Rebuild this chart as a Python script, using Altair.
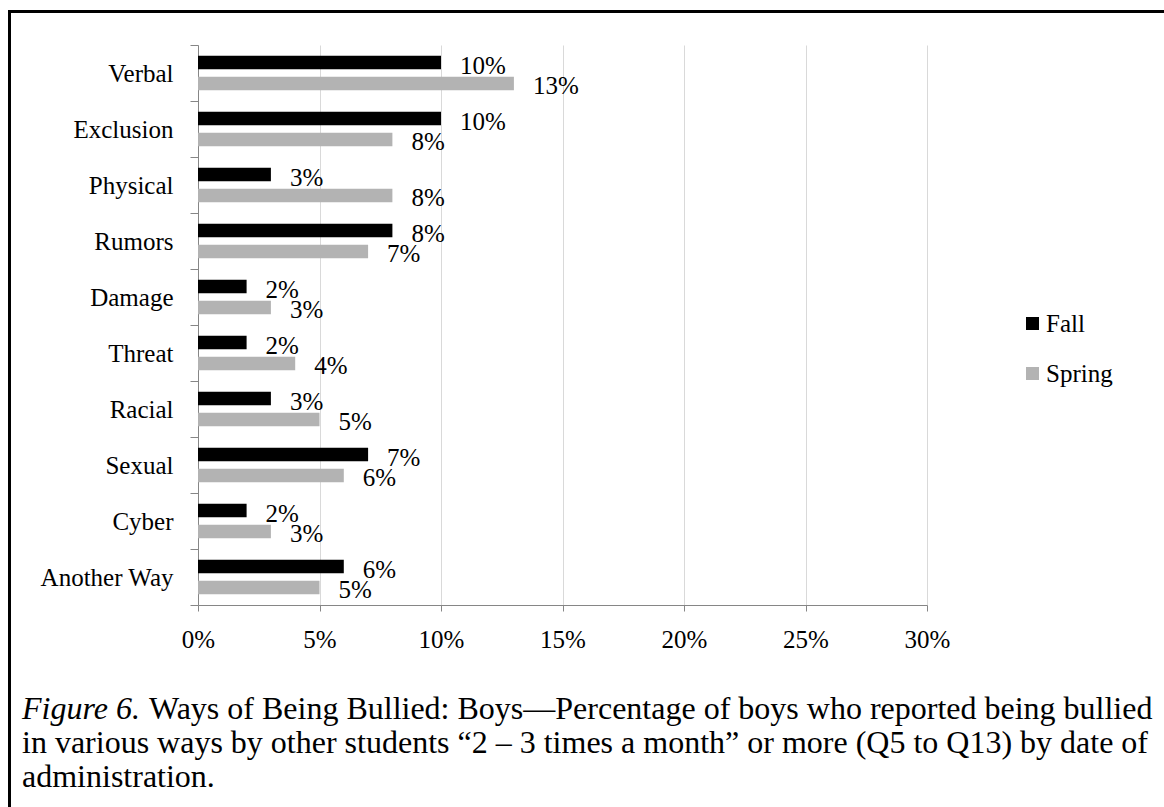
import altair as alt
import pandas as pd

categories = ["Verbal", "Exclusion", "Physical", "Rumors", "Damage", "Threat",
              "Racial", "Sexual", "Cyber", "Another Way"]
fall = [10, 10, 3, 8, 2, 2, 3, 7, 2, 6]
spring = [13, 8, 8, 7, 3, 4, 5, 6, 3, 5]
series = ["Fall", "Spring"]
colors = ["#000000", "#b3b3b3"]
x_ticks = [0, 0.05, 0.10, 0.15, 0.20, 0.25, 0.30]

caption_italic = "Figure 6."
caption_lines = [
    "Ways of Being Bullied: Boys\u2014Percentage of boys who reported being bullied",
    "in various ways by other students \u201c2 \u2013 3 times a month\u201d or more (Q5 to Q13) by date of",
    "administration.",
]

rows = []
for c, f, s in zip(categories, fall, spring):
    rows.append({"cat": c, "series": "Fall", "v": f / 100})
    rows.append({"cat": c, "series": "Spring", "v": s / 100})
df = pd.DataFrame(rows)

FONT = "Liberation Serif"
W, H = 729, 560
LEFT, TOP = 198, 45

y_enc = alt.Y("cat:N", sort=categories, title=None,
              scale=alt.Scale(paddingInner=0, paddingOuter=0),
              axis=alt.Axis(tickBand="extent", tickSize=8, labelPadding=17,
                            labelFontSize=25, labelFont=FONT, labelColor="black",
                            domainColor="#868686", tickColor="#868686",
                            grid=False, labelLimit=300))
yoff_enc = alt.YOffset("series:N", sort=series,
                       scale=alt.Scale(paddingInner=0.357, paddingOuter=0.512))
x_enc = alt.X("v:Q", title=None,
              scale=alt.Scale(domain=[0, 0.30], nice=False, zero=True),
              axis=alt.Axis(values=x_ticks, format=".0%", grid=True,
                            gridColor="#d9d9d9", domainColor="#868686",
                            tickColor="#868686", tickSize=6, labelPadding=16,
                            labelFlush=False, labelFontSize=25, labelFont=FONT,
                            labelColor="black"))

bars = alt.Chart(df).mark_bar().encode(
    x=x_enc,
    y=y_enc,
    yOffset=yoff_enc,
    color=alt.Color("series:N", sort=series,
                    scale=alt.Scale(domain=series, range=colors),
                    legend=alt.Legend(title=None, orient="none", legendX=822,
                                      legendY=266, symbolType="square",
                                      symbolSize=169, symbolStrokeWidth=0,
                                      labelFontSize=25, labelFont=FONT,
                                      labelColor="black", labelOffset=1,
                                      rowPadding=24, padding=0)),
)

labels = alt.Chart(df).mark_text(align="left", baseline="middle", dx=19, dy=3,
                                 fontSize=25, font=FONT, color="black").encode(
    x=alt.X("v:Q"),
    y=alt.Y("cat:N", sort=categories),
    yOffset=alt.YOffset("series:N", sort=series),
    text=alt.Text("v:Q", format=".0%"),
)

one = pd.DataFrame({"k": [0]})
frame_top = alt.Chart(one).mark_rule(color="black", strokeWidth=3).encode(
    x=alt.value(-190), x2=alt.value(980), y=alt.value(-33.5))
frame_left = alt.Chart(one).mark_rule(color="black", strokeWidth=3).encode(
    x=alt.value(-188.5), y=alt.value(-35), y2=alt.value(780))

cap_x = 22 - LEFT
base_y = [719 - TOP, 753 - TOP, 787 - TOP]
cap_layers = []
cap_layers.append(
    alt.Chart(pd.DataFrame({"t": [caption_italic]})).mark_text(
        align="left", baseline="alphabetic", fontSize=32, font=FONT,
        fontStyle="italic", color="black").encode(
        text="t:N", x=alt.value(cap_x), y=alt.value(base_y[0])))
offsets = [127, 0, 0]
for i, line in enumerate(caption_lines):
    cap_layers.append(
        alt.Chart(pd.DataFrame({"t": [line]})).mark_text(
            align="left", baseline="alphabetic", fontSize=32, font=FONT,
            color="black").encode(
            text="t:N", x=alt.value(cap_x + offsets[i]), y=alt.value(base_y[i])))

chart = alt.layer(bars, labels, frame_top, frame_left, *cap_layers).properties(
    width=W, height=H,
    autosize=alt.AutoSizeParams(type="none"),
    padding={"left": LEFT, "top": TOP, "right": 1164 - LEFT - W, "bottom": 807 - TOP - H},
    background="white",
).configure_view(strokeWidth=0)

chart.save("out.html", embed_options={"renderer": "svg", "actions": False})
